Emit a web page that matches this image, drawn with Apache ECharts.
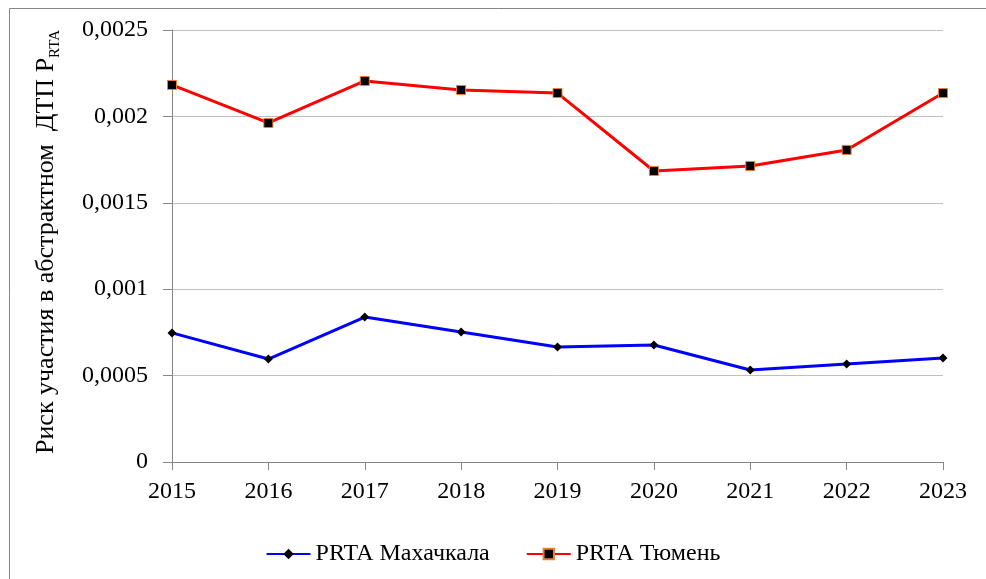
<!DOCTYPE html>
<html>
<head>
<meta charset="utf-8">
<script src="https://cdn.jsdelivr.net/npm/echarts@6/dist/echarts.min.js"></script>
<style>html,body{margin:0;padding:0;background:#fff}#c{width:986px;height:579px}</style>
</head>
<body>
<div id="c"></div>
<script>
const years = ['2015','2016','2017','2018','2019','2020','2021','2022','2023'];
const makhachkala = [0.000747, 0.000596, 0.000839, 0.000752, 0.000666, 0.000677, 0.000532, 0.000567, 0.000602];
const tyumen = [0.002182, 0.001962, 0.002205, 0.002153, 0.002135, 0.001684, 0.001713, 0.001806, 0.002135];
const seriesNames = ['PRTA Махачкала', 'PRTA Тюмень'];
const yTitle = 'Риск участия в абстрактном  ДТП P';
const ySub = 'RTA';

const FONT = '"Liberation Serif", "Times New Roman", serif';
const chart = echarts.init(document.getElementById('c'), null, {renderer: 'canvas'});
chart.setOption({
  animation: false,
  backgroundColor: '#fff',
  textStyle: {fontFamily: FONT, color: '#000'},
  grid: {left: 172, right: 43, top: 30, bottom: 117, containLabel: false},
  graphic: [
    {type: 'rect', shape: {x: 9.5, y: 8.5, width: 1000, height: 600}, style: {fill: 'none', stroke: '#868686', lineWidth: 1}, z: -1},
    {type: 'text', x: 46, y: 242, rotation: Math.PI / 2,
      style: {
        text: '{m|' + yTitle + '}{s|' + ySub + '}',
        align: 'center', verticalAlign: 'middle',
        fontFamily: FONT, fill: '#000',
        rich: {
          m: {fontSize: 26, fontFamily: FONT, fill: '#000', lineHeight: 34, verticalAlign: 'middle'},
          s: {fontSize: 15, fontFamily: FONT, fill: '#000', lineHeight: 34, verticalAlign: 'bottom', padding: [12, 0, 0, 0]}
        }
      }}
  ],
  legend: {
    bottom: 8, left: 'center',
    itemWidth: 44, itemHeight: 13, itemGap: 36,
    textStyle: {fontFamily: FONT, fontSize: 24, color: '#000'},
    data: seriesNames
  },
  xAxis: {
    type: 'category', data: years, boundaryGap: false,
    axisLine: {show: true, lineStyle: {color: '#868686', width: 1}},
    axisTick: {show: true, length: 8, lineStyle: {color: '#868686'}},
    axisLabel: {fontFamily: FONT, fontSize: 24, color: '#000', margin: 18}
  },
  yAxis: {
    type: 'value', min: 0, max: 0.0025, interval: 0.0005,
    axisLine: {show: true, lineStyle: {color: '#868686', width: 1}},
    axisTick: {show: true, length: 9, lineStyle: {color: '#868686'}},
    splitLine: {show: true, lineStyle: {color: '#BFBFBF', width: 1}},
    axisLabel: {
      fontFamily: FONT, fontSize: 24, color: '#000', margin: 24,
      formatter: v => v === 0 ? '0' : String(+v.toPrecision(4)).replace('.', ',')
    }
  },
  series: [
    {
      name: seriesNames[0], type: 'line', data: makhachkala,
      symbol: 'diamond', symbolSize: 9,
      lineStyle: {color: '#0000FF', width: 3},
      itemStyle: {color: '#000', borderColor: '#000', borderWidth: 0},
      color: '#0000FF'
    },
    {
      name: seriesNames[1], type: 'line', data: tyumen,
      symbol: 'rect', symbolSize: 9,
      lineStyle: {color: '#FF0000', width: 3},
      itemStyle: {color: '#000', borderColor: '#ED7D31', borderWidth: 1},
      color: '#FF0000'
    }
  ]
});
</script>
</body>
</html>
